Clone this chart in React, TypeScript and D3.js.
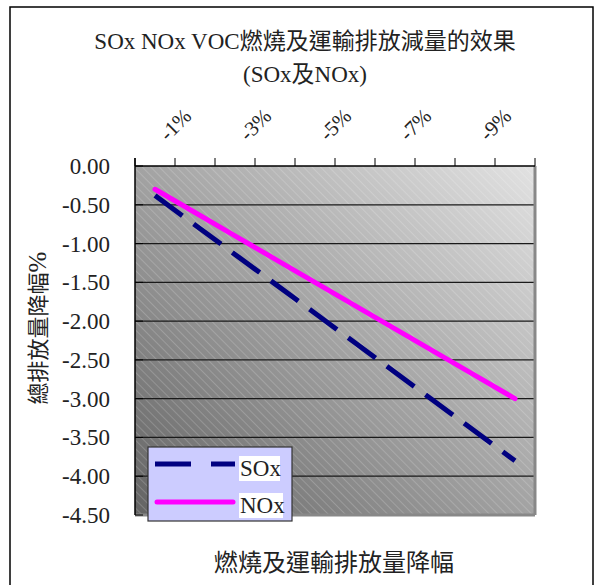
import React from 'react';
import * as d3 from 'd3';

const categories = ['-1%', '-2%', '-3%', '-4%', '-5%', '-6%', '-7%', '-8%', '-9%', '-10%'];
const soxValues = [-0.38, -0.76, -1.14, -1.52, -1.9, -2.28, -2.66, -3.04, -3.42, -3.8];
const noxValues = [-0.3, -0.6, -0.9, -1.2, -1.5, -1.8, -2.1, -2.4, -2.7, -3.0];
const yTicks = [0, -0.5, -1, -1.5, -2, -2.5, -3, -3.5, -4, -4.5];
const shownLabels = ['-1%', '-3%', '-5%', '-7%', '-9%'];

const width = 602;
const height = 585;
const plot = { left: 135, top: 166, right: 535, bottom: 515 };
const latin = '"Liberation Serif", "Noto Sans CJK TC", serif';
const cjk = '"Noto Sans CJK TC", "Liberation Serif", sans-serif';

// excel style labels use a plain hyphen
const fmt = (v: number) => d3.format('.2f')(v).replace('\u2212', '-');

export default function App() {
  const x = d3.scaleBand().domain(categories).range([plot.left, plot.right]).padding(0);
  const y = d3.scaleLinear().domain([0, -4.5]).range([plot.top, plot.bottom]);
  const cx = (c: string) => (x(c) as number) + x.bandwidth() / 2;

  const line = d3.line<number>()
    .x((_, i) => cx(categories[i]))
    .y((d) => y(d));

  return (
    <svg width={width} height={height} style={{ position: 'absolute', left: 0, top: 0, background: '#fff' }}>
      <defs>
        <linearGradient id="bg" x1="0" y1="1" x2="1" y2="0">
          <stop offset="0" stopColor="#636363" />
          <stop offset="1" stopColor="#e2e2e2" />
        </linearGradient>
        <pattern id="hatch" width="6" height="6" patternUnits="userSpaceOnUse" patternTransform="rotate(-45)">
          <line x1="0" y1="0" x2="0" y2="6" stroke="#fff" strokeWidth="1" strokeOpacity="0.35" />
        </pattern>
      </defs>

      <rect x={10} y={7} width={583} height={600} fill="#fff" stroke="#000" strokeWidth={1.5} />

      {/* title */}
      <text x={305} y={49} textAnchor="middle" fontSize={23} fill="#222">
        <tspan fontFamily={latin}>SOx NOx VOC</tspan>
        <tspan fontFamily={cjk}>燃燒及運輸排放減量的效果</tspan>
      </text>
      <text x={305} y={82} textAnchor="middle" fontSize={23} fill="#222">
        <tspan fontFamily={latin}>(SOx</tspan>
        <tspan fontFamily={cjk}>及</tspan>
        <tspan fontFamily={latin}>NOx)</tspan>
      </text>

      {/* plot background */}
      <rect x={plot.left} y={plot.top} width={plot.right - plot.left} height={plot.bottom - plot.top} fill="url(#bg)" />
      <rect x={plot.left} y={plot.top} width={plot.right - plot.left} height={plot.bottom - plot.top} fill="url(#hatch)" />

      {/* gridlines */}
      {yTicks.slice(1, -1).map((t) => (
        <line key={t} x1={plot.left} x2={plot.right} y1={y(t)} y2={y(t)} stroke="#1a1a1a" strokeWidth={1.2} />
      ))}
      <line x1={plot.right} x2={plot.right} y1={plot.top} y2={plot.bottom} stroke="#888" strokeWidth={3} />
      <line x1={plot.left} x2={plot.right} y1={plot.bottom} y2={plot.bottom} stroke="#888" strokeWidth={3} />

      {/* top axis */}
      <line x1={plot.left} x2={plot.right} y1={plot.top} y2={plot.top} stroke="#000" strokeWidth={1.5} />
      {categories.map((c) => (
        <line key={c} x1={x(c)} x2={x(c)} y1={plot.top - 8} y2={plot.top} stroke="#000" strokeWidth={1} />
      ))}
      <line x1={plot.right} x2={plot.right} y1={plot.top - 8} y2={plot.top} stroke="#000" strokeWidth={1} />
      {shownLabels.map((c) => (
        <text key={c} transform={`translate(${cx(c) + 13},${plot.top - 24}) rotate(-45)`}
          fontFamily={latin} fontSize={21} fill="#222">{c}</text>
      ))}

      {/* left axis */}
      <line x1={plot.left} x2={plot.left} y1={plot.top - 8} y2={plot.bottom} stroke="#000" strokeWidth={1.5} />
      {yTicks.map((t) => (
        <line key={t} x1={plot.left} x2={plot.left + 8} y1={y(t)} y2={y(t)} stroke="#000" strokeWidth={1} />
      ))}
      {yTicks.map((t) => (
        <text key={t} x={110} y={y(t) + 8} textAnchor="end" fontFamily={latin} fontSize={23} fill="#222">
          {fmt(t)}
        </text>
      ))}

      {/* series */}
      <path d={line(soxValues) as string} fill="none" stroke="#000080" strokeWidth={5} strokeDasharray="34,14" />
      <path d={line(noxValues) as string} fill="none" stroke="#ff00ff" strokeWidth={5} strokeLinecap="round" />

      {/* axis titles */}
      <text transform="translate(46,328) rotate(-90)" textAnchor="middle" fontSize={22} fill="#222">
        <tspan fontFamily={cjk}>總排放量降幅</tspan>
        <tspan fontFamily={latin} fontSize={25}>%</tspan>
      </text>
      <text x={334} y={571} textAnchor="middle" fontFamily={cjk} fontSize={24} fill="#222">燃燒及運輸排放量降幅</text>

      {/* legend */}
      <rect x={148} y={447} width={144} height={74} fill="#ccccff" stroke="#333" strokeWidth={1.2} />
      <line x1={155} x2={235} y1={464} y2={464} stroke="#000080" strokeWidth={5} strokeDasharray="36,20" />
      <line x1={157} x2={233} y1={502} y2={502} stroke="#ff00ff" strokeWidth={5} strokeLinecap="round" />
      <rect x={239} y={456} width={41} height={25} fill="#fff" />
      <rect x={239} y={493} width={44} height={25} fill="#fff" />
      <text x={240} y={476} fontFamily={latin} fontSize={23} fill="#222">SOx</text>
      <text x={240} y={513} fontFamily={latin} fontSize={23} fill="#222">NOx</text>
    </svg>
  );
}
